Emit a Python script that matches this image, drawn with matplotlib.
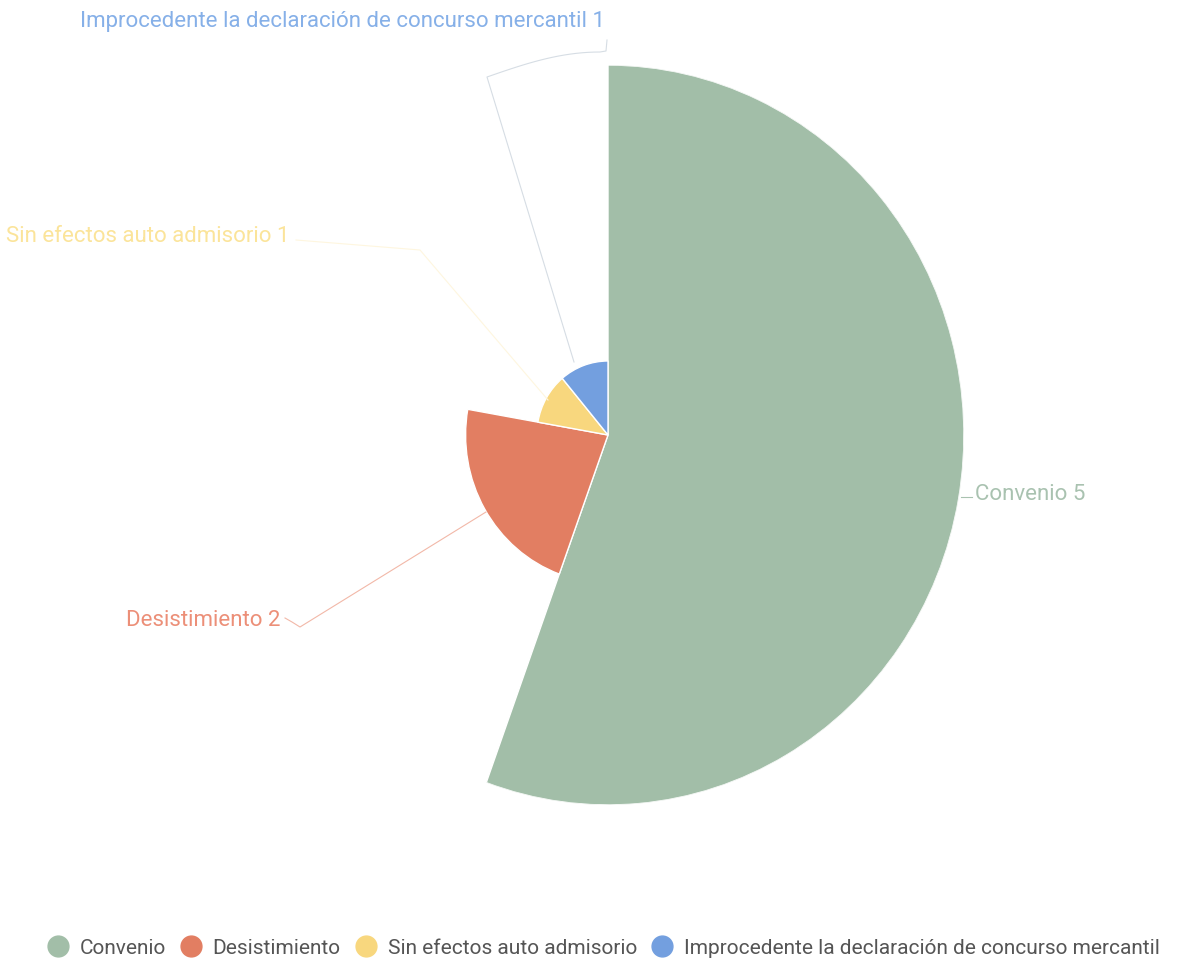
import numpy as np
import matplotlib.pyplot as plt
from matplotlib.lines import Line2D

# data
categories = ["Convenio", "Desistimiento", "Sin efectos auto admisorio",
              "Improcedente la declaración de concurso mercantil"]
values = [5, 2, 1, 1]
colors = ["#a2bea8", "#e27e62", "#f8d77e", "#739fdf"]
label_colors = ["#a9c2b0", "#ec8f78", "#fbe49a", "#86b0e8"]

plt.rcParams['font.family'] = ['Roboto', 'DejaVu Sans']

W, H = 1186, 964
fig = plt.figure(figsize=(W / 100, H / 100), dpi=100)

# rose chart (radius ~ value) on a polar axes, slightly squeezed sideways like the source
cx, cy, RX, RY = 608, 435, 356, 370
ax = fig.add_axes([(cx - RX) / W, (H - cy - RY) / H, 2 * RX / W, 2 * RY / H],
                  projection='polar')
ax.set_aspect('auto')
ax.set_theta_zero_location('N')
ax.set_theta_direction(-1)
total = sum(values)
widths = np.array(values) / total * 2 * np.pi
starts = np.concatenate([[0], np.cumsum(widths)[:-1]])
ax.bar(starts, values, width=widths, align='edge', color=colors,
       edgecolor='white', linewidth=1)
ax.set_ylim(0, max(values))
ax.set_axis_off()

# overlay axes in pixel coordinates for labels and leader lines
ov = fig.add_axes([0, 0, 1, 1])
ov.set_xlim(0, W)
ov.set_ylim(H, 0)
ov.set_axis_off()
ov.patch.set_alpha(0)

fs = 16
# Convenio
ov.plot([961, 972], [497, 497], color=label_colors[0], lw=0.8)
ov.text(975, 494, f"{categories[0]} {values[0]}", color=label_colors[0],
        fontsize=fs, va='center', ha='left')
# Desistimiento
ov.plot([486, 300, 292, 285], [512, 627, 622, 618], color="#f2b8a8", lw=0.8)
ov.text(281, 620, f"{categories[1]} {values[1]}", color=label_colors[1],
        fontsize=fs, va='center', ha='right')
# Sin efectos
ov.plot([548, 420, 296], [400, 250, 240], color="#fef6df", lw=0.8)
ov.text(290, 237, f"{categories[2]} {values[2]}", color=label_colors[2],
        fontsize=fs, va='center', ha='right')
# Improcedente
t = np.linspace(0, 1, 20)
arc_x = 487 + (600 - 487) * t
arc_y = 77 - 25 * np.sin(t * np.pi / 2)
ov.plot(np.concatenate([[574], arc_x, [606, 607]]),
        np.concatenate([[362], arc_y, [51, 40]]), color="#d6dde4", lw=0.8)
ov.text(605, 21, f"{categories[3]} {values[3]}", color=label_colors[3],
        fontsize=fs, va='center', ha='right')

# legend
handles = [Line2D([0], [0], marker='o', linestyle='', markersize=15,
                  markerfacecolor=c, markeredgecolor=c) for c in colors]
fig.legend(handles, categories, loc='center', bbox_to_anchor=(0.508, 1 - 948 / H),
           ncol=4, frameon=False, fontsize=15, handletextpad=0.45,
           columnspacing=0.6, handlelength=1.2, labelcolor='#555555')

fig.savefig("out.png", dpi=100, facecolor='white')
